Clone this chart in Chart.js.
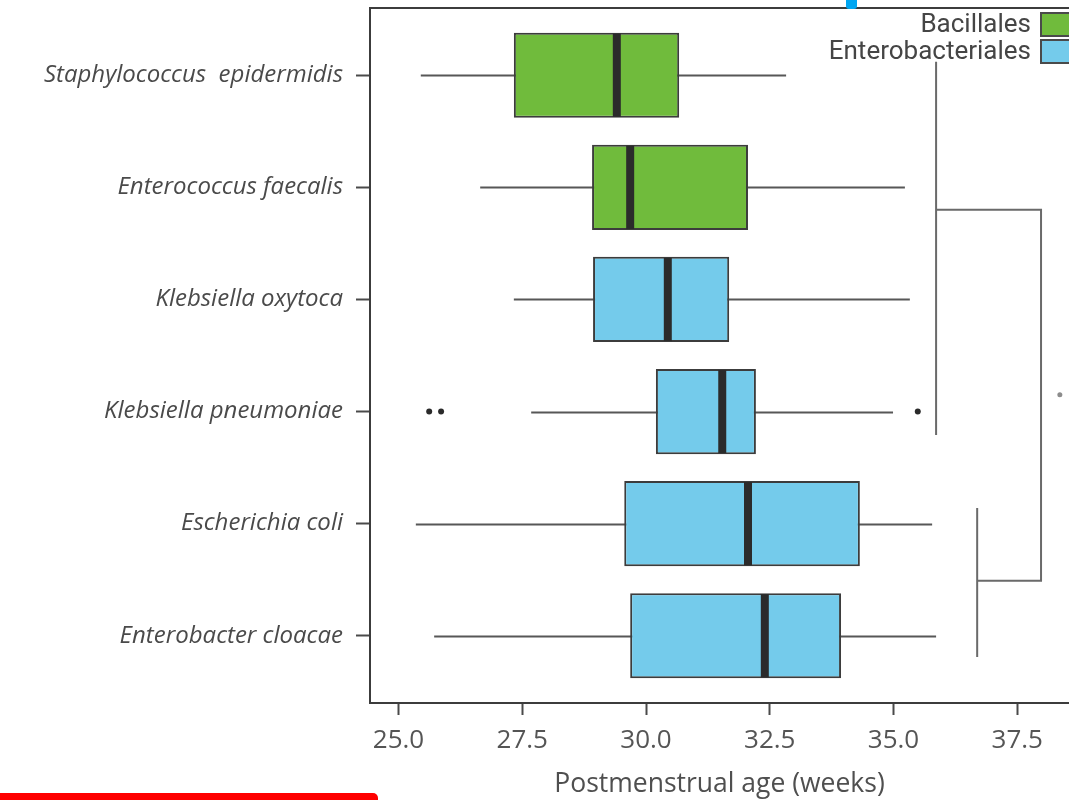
<!DOCTYPE html>
<html>
<head>
<meta charset="utf-8">
<script src="https://cdn.jsdelivr.net/npm/chart.js@4/dist/chart.umd.min.js"></script>
<style>
  html, body { margin: 0; padding: 0; background: #fff; }
  #wrap { position: relative; width: 1069px; height: 800px; overflow: hidden; background: #fff; }
  #wrap canvas { position: absolute; left: 0; top: 0; }
  #flag { position: absolute; left: 0; top: 793px; width: 378px; height: 12px; background: #ff0000; border-radius: 0 5px 0 0; }
  #pin { position: absolute; left: 846px; top: 0; width: 11px; height: 9px; background: #00a6f2; border-radius: 0 0 3px 3px; }
</style>
</head>
<body>
<div id="wrap">
  <canvas id="chart" width="1069" height="800"></canvas>
  <div id="pin"></div>
  <div id="flag"></div>
</div>
<script>
// Species (top to bottom) and the order each belongs to
const species = [
  'Staphylococcus  epidermidis',
  'Enterococcus faecalis',
  'Klebsiella oxytoca',
  'Klebsiella pneumoniae',
  'Escherichia coli',
  'Enterobacter cloacae'
];
const orderOf = ['Bacillales', 'Bacillales', 'Enterobacteriales', 'Enterobacteriales', 'Enterobacteriales', 'Enterobacteriales'];
const orders = ['Bacillales', 'Enterobacteriales'];
const orderColors = ['#70bb3c', '#74cbeb'];

// Five-number summaries, postmenstrual age in weeks
const whiskerLow  = [25.45, 26.65, 27.33, 27.68, 25.35, 25.72];
const q1          = [27.33, 28.91, 28.93, 30.20, 29.56, 29.68];
const median      = [29.41, 29.68, 30.44, 31.54, 32.06, 32.40];
const q3          = [30.67, 32.06, 31.68, 32.22, 34.32, 33.94];
const whiskerHigh = [32.83, 35.23, 35.33, 34.99, 35.78, 35.86];

// Outlying observations (row number, age)
const outlierRow   = [4, 4, 4];
const outlierValue = [25.62, 25.86, 35.49];

// Clustering tree beside the boxes (age axis, row axis)
const treeX = [[35.86, 35.86], [35.86, 37.98, 37.98, 36.69], [36.69, 36.69]];
const treeY = [[0.88, 4.21], [2.20, 2.20, 5.51, 5.51], [4.86, 6.19]];
const markX = [38.36];
const markY = [3.85];

// Axis ticks
const xTicks = [25.0, 27.5, 30.0, 32.5, 35.0, 37.5];
const xTickLabels = ['25.0', '27.5', '30.0', '32.5', '35.0', '37.5'];
const xRange = [24.424, 38.545];
const yRange = [0.4, 6.6];

const ink = '#3c3c3c';

const boxDatasets = orders.map((ord, k) => ({
  type: 'bar',
  label: ord,
  data: species.map((s, i) => i).filter(i => orderOf[i] === ord)
               .map(i => ({ x: [q1[i], q3[i]], y: i + 1 })),
  backgroundColor: orderColors[k],
  borderColor: ink,
  borderWidth: 2,
  borderSkipped: false,
  grouped: false,
  categoryPercentage: 1,
  barPercentage: 0.76,
  order: 2
}));

const treeDatasets = treeX.map((xs, k) => ({
  type: 'line',
  label: 'tree' + k,
  data: xs.map((v, j) => ({ x: v, y: treeY[k][j] })),
  borderColor: '#6a6a6a',
  borderWidth: 2,
  pointRadius: 0,
  tension: 0,
  fill: false,
  order: 3
}));

const outlierDataset = {
  type: 'scatter',
  label: 'outliers',
  data: outlierRow.map((r, j) => ({ x: outlierValue[j], y: r })),
  backgroundColor: '#2a2a2a',
  borderWidth: 0,
  pointRadius: 3,
  order: 1
};

const markDataset = {
  type: 'scatter',
  label: 'mark',
  data: markX.map((v, j) => ({ x: v, y: markY[j] })),
  backgroundColor: '#8c8c8c',
  borderWidth: 0,
  pointRadius: 2.5,
  order: 1
};

// Whiskers under the boxes, medians and frame/legend on top
const boxPlot = {
  id: 'boxPlot',
  beforeDatasetsDraw(chart) {
    const { ctx, scales: { x, y } } = chart;
    ctx.save();
    ctx.strokeStyle = '#575757';
    ctx.lineWidth = 2.2;
    species.forEach((s, i) => {
      const py = Math.round(y.getPixelForValue(i + 1)) + 0.5;
      ctx.beginPath();
      ctx.moveTo(x.getPixelForValue(whiskerLow[i]), py);
      ctx.lineTo(x.getPixelForValue(whiskerHigh[i]), py);
      ctx.stroke();
    });
    ctx.restore();
  },
  afterDatasetsDraw(chart) {
    const { ctx, scales: { x, y } } = chart;
    const bar = chart.getDatasetMeta(0).data[0];
    const half = bar.height / 2 - 1;
    ctx.save();
    ctx.strokeStyle = '#2b2b2b';
    ctx.lineWidth = 8;
    species.forEach((s, i) => {
      const py = y.getPixelForValue(i + 1);
      const px = x.getPixelForValue(median[i]);
      ctx.beginPath();
      ctx.moveTo(px, py - half);
      ctx.lineTo(px, py + half);
      ctx.stroke();
    });
    ctx.restore();
  },
  afterDraw(chart) {
    const { ctx, chartArea: a } = chart;
    ctx.save();
    // top edge of the frame
    ctx.strokeStyle = ink;
    ctx.lineWidth = 2;
    ctx.beginPath();
    ctx.moveTo(a.left - 1, a.top);
    ctx.lineTo(a.right, a.top);
    ctx.stroke();

    // legend: label on the left, colour key on the right
    ctx.font = '26px Roboto';
    ctx.textAlign = 'right';
    ctx.textBaseline = 'middle';
    orders.forEach((ord, k) => {
      const cy = 24 + k * 27;
      ctx.fillStyle = '#454545';
      ctx.fillText(ord, 1031, cy + 1);
      ctx.fillStyle = orderColors[k];
      ctx.fillRect(1041, cy - 11, 34, 23);
      ctx.strokeStyle = '#4a4a4a';
      ctx.lineWidth = 2;
      ctx.strokeRect(1041, cy - 11, 34, 23);
    });
    ctx.restore();
  }
};

function draw() {
  new Chart(document.getElementById('chart'), {
    data: { datasets: [...boxDatasets, outlierDataset, markDataset, ...treeDatasets] },
    options: {
      indexAxis: 'y',
      responsive: false,
      animation: false,
      layout: { autoPadding: false, padding: { top: 8, right: 0, bottom: 0, left: 0 } },
      plugins: { legend: { display: false }, tooltip: { enabled: false } },
      scales: {
        x: {
          type: 'linear',
          position: 'bottom',
          min: xRange[0],
          max: xRange[1],
          bounds: 'data',
          offset: false,
          afterBuildTicks(scale) { scale.ticks = xTicks.map(v => ({ value: v })); },
          afterFit(scale) {
            scale.height = 97;
            scale.paddingLeft = 0;
            scale.paddingRight = 0;
          },
          grid: { offset: false, drawOnChartArea: false, drawTicks: true, tickLength: 12, tickWidth: 2, tickColor: '#4a4a4a' },
          border: { display: true, color: ink, width: 2 },
          ticks: {
            autoSkip: false,
            maxRotation: 0,
            padding: 10,
            color: '#555555',
            font: { family: 'Open Sans', size: 26 },
            callback: (v, idx) => xTickLabels[idx]
          },
          title: {
            display: true,
            text: 'Postmenstrual age (weeks)',
            color: '#4f4f4f',
            font: { family: 'Open Sans', size: 26.5 },
            padding: { top: 0, bottom: 0 }
          }
        },
        y: {
          type: 'linear',
          position: 'left',
          reverse: true,
          min: yRange[0],
          max: yRange[1],
          bounds: 'data',
          offset: false,
          afterBuildTicks(scale) { scale.ticks = species.map((s, i) => ({ value: i + 1 })); },
          afterFit(scale) {
            scale.width = 370;
            scale.paddingTop = 0;
            scale.paddingBottom = 0;
          },
          grid: { offset: false, drawOnChartArea: false, drawTicks: true, tickLength: 14, tickWidth: 2, tickColor: '#4a4a4a' },
          border: { display: true, color: ink, width: 2 },
          ticks: {
            autoSkip: false,
            padding: 13,
            color: '#4a4a4a',
            font: { family: 'Open Sans', style: 'italic', size: 24 },
            callback: (v, idx) => species[idx]
          }
        }
      }
    },
    plugins: [boxPlot]
  });
}

const fontsReady = document.fonts
  ? Promise.all([
      document.fonts.load('italic 24px "Open Sans"'),
      document.fonts.load('26px "Open Sans"'),
      document.fonts.load('26px Roboto')
    ]).catch(() => null)
  : Promise.resolve();
fontsReady.then(draw);
</script>
</body>
</html>
